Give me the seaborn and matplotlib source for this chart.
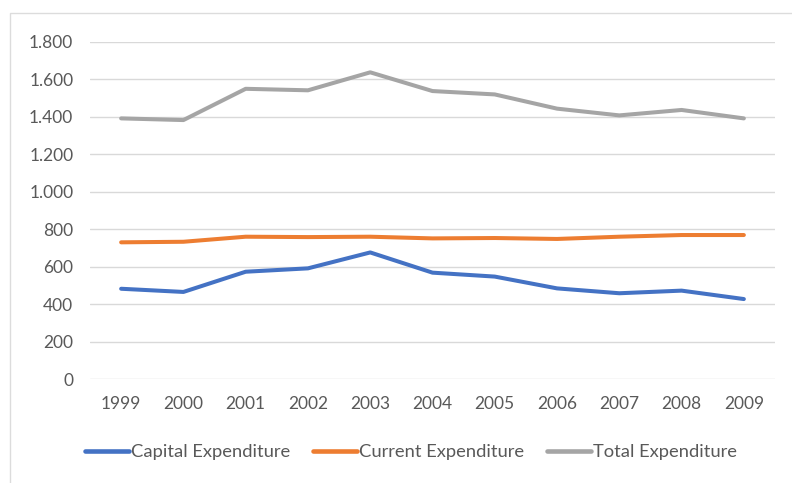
import matplotlib
matplotlib.use("Agg")
import matplotlib.pyplot as plt
import seaborn as sns
import pandas as pd
from matplotlib.patches import Rectangle

# Expenditure series, 1999-2009
years = [1999, 2000, 2001, 2002, 2003, 2004, 2005, 2006, 2007, 2008, 2009]
capital = [482, 465, 573, 591, 676, 568, 547, 484, 458, 472, 427]
current = [730, 733, 760, 758, 760, 751, 753, 748, 760, 769, 769]
total = [1392, 1383, 1550, 1542, 1638, 1538, 1520, 1444, 1408, 1437, 1392]

series_names = ["Capital Expenditure", "Current Expenditure", "Total Expenditure"]
series_colors = ["#4472C4", "#ED7D31", "#A5A5A5"]

y_ticks = [0, 200, 400, 600, 800, 1000, 1200, 1400, 1600, 1800]
y_tick_labels = ["0", "200", "400", "600", "800", "1.000", "1.200", "1.400", "1.600", "1.800"]

df = pd.DataFrame({
    "Year": years * 3,
    "Value": capital + current + total,
    "Series": [series_names[0]] * len(years)
    + [series_names[1]] * len(years)
    + [series_names[2]] * len(years),
})

sns.set_theme(style="white")
plt.rcParams["font.family"] = ["Lato", "DejaVu Sans"]

fig = plt.figure(figsize=(7.92, 4.83), dpi=100)
fig.patch.set_facecolor("white")
ax = fig.add_axes([90 / 792, 1 - 379 / 483, 685 / 792, (379 - 42) / 483])

sns.lineplot(
    data=df, x="Year", y="Value", hue="Series",
    palette=dict(zip(series_names, series_colors)),
    linewidth=2.9, ax=ax, legend=True,
)
for line in ax.lines:
    line.set_solid_capstyle("round")
    line.set_solid_joinstyle("round")

ax.set_xlim(1998.5, 2009.5)
ax.set_ylim(0, 1800)
ax.set_yticks(y_ticks)
ax.set_yticklabels(y_tick_labels)
ax.set_xticks(years)
ax.set_xticklabels([str(y) for y in years])
ax.set_xlabel("")
ax.set_ylabel("")

ax.grid(axis="y", color="#D9D9D9", linewidth=1.0)
ax.grid(axis="x", visible=False)
ax.set_axisbelow(True)
for s in ax.spines.values():
    s.set_visible(False)
ax.tick_params(axis="both", length=0, labelsize=12.5, colors="#595959")
ax.tick_params(axis="y", pad=12)
ax.tick_params(axis="x", pad=12)

handles, labels = ax.get_legend_handles_labels()
ax.legend_.remove()
for h in handles:
    h.set_linewidth(3.3)
fig.legend(
    handles, labels, loc="center", bbox_to_anchor=(0.519, 1 - 452 / 483),
    ncol=3, frameon=False, fontsize=13.2, handlelength=2.4,
    handletextpad=0.12, columnspacing=1.25, labelcolor="#595959",
)

# light chart-area border (top and left edges visible)
fig.add_artist(Rectangle((10 / 792, -0.05), 1.2, 1 - 13 / 483 + 0.05,
                         transform=fig.transFigure, fill=False,
                         edgecolor="#DCDCDC", linewidth=1.0))

fig.savefig("out.png", dpi=100, facecolor="white")
